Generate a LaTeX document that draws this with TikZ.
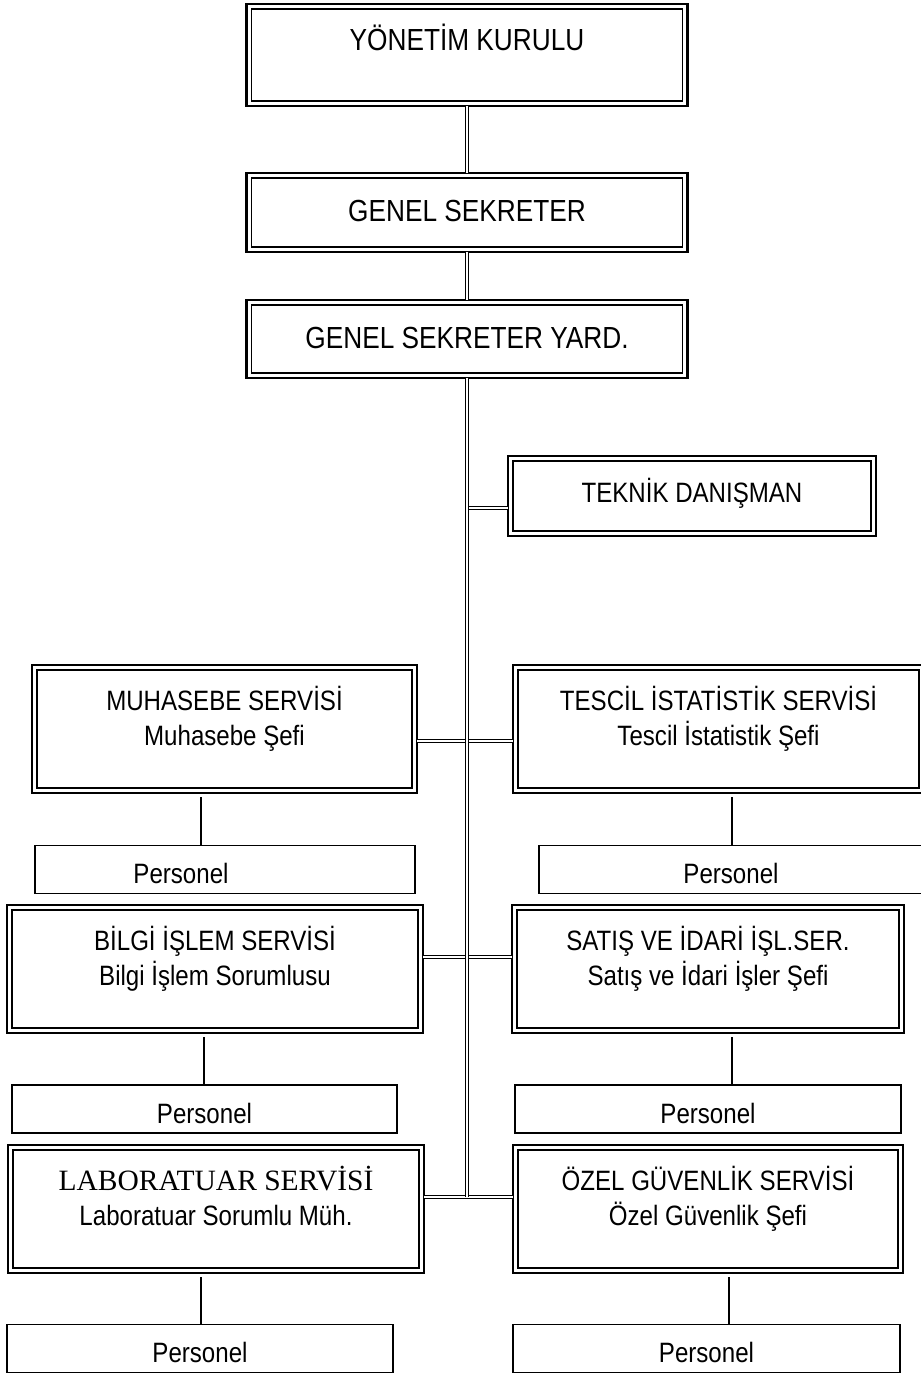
\documentclass[tikz,border=0pt]{standalone}
\usepackage{fontspec}
\setmainfont{Liberation Sans}[FakeStretch=0.86]
\newfontfamily\timesfont{Liberation Serif}
\tikzset{
  unit/.style={draw, line width=2.8pt, outer sep=0pt, inner sep=0pt, fill=white,
    align=center, font=\fontsize{28}{35}\selectfont},
  service/.style={unit, text height=80pt, text depth=48pt},
  staff/.style={draw, line width=1.3pt, outer sep=0pt, inner sep=0pt, fill=white,
    minimum height=48pt, text height=38pt, text depth=10pt,
    font=\fontsize{28}{35}\selectfont},
  link/.style={draw, double, line width=1.3pt, double distance=1.6pt},
  drop/.style={draw, line width=1.3pt, shorten <=4pt}
}
\begin{document}
\begin{tikzpicture}[x=1pt,y=-1pt]
  \useasboundingbox (0,0) rectangle (921,1374);
  % top of the chart
  \node[unit, minimum width=441pt, text height=46pt, text depth=56pt,
    font=\fontsize{30.5}{35}\selectfont] (yk) at (467,55) {YÖNETİM KURULU};
  \node[unit, minimum width=441pt, text height=48pt, text depth=31pt,
    font=\fontsize{30.5}{35}\selectfont] (gs) at (467,212.5) {GENEL SEKRETER};
  \node[unit, minimum width=441pt, text height=48pt, text depth=30pt,
    font=\fontsize{30.5}{35}\selectfont] (gsy) at (467,339) {GENEL SEKRETER YARD.};
  \node[unit, minimum width=368pt, text height=46pt, text depth=34pt] (td) at (692,496) {TEKNİK DANIŞMAN};
  % services
  \node[service, minimum width=385pt] (mu) at (224.5,729)
    {MUHASEBE SERVİSİ\\Muhasebe Şefi};
  \node[service, minimum width=411pt] (ts) at (718.5,729)
    {TESCİL İSTATİSTİK SERVİSİ\\Tescil İstatistik Şefi};
  \node[service, minimum width=416pt] (bi) at (215,969)
    {BİLGİ İŞLEM SERVİSİ\\Bilgi İşlem Sorumlusu};
  \node[service, minimum width=392pt] (si) at (708,969)
    {SATIŞ VE İDARİ İŞL.SER.\\Satış ve İdari İşler Şefi};
  \node[service, minimum width=416pt] (la) at (216,1209)
    {{\timesfont\fontsize{29.5}{35}\selectfont LABORATUAR SERVİSİ}\\Laboratuar Sorumlu Müh.};
  \node[service, minimum width=390pt] (og) at (708,1209)
    {ÖZEL GÜVENLİK SERVİSİ\\Özel Güvenlik Şefi};
  % staff boxes
  \node[staff, minimum width=380pt] (p1) at (225,869.5) {Personel\hspace*{88pt}};
  \node[staff, minimum width=384pt] (p2) at (731,869.5) {Personel};
  \node[staff, minimum width=385pt] (p3) at (204.5,1109) {Personel};
  \node[staff, minimum width=386pt] (p4) at (708,1109) {Personel};
  \node[staff, minimum width=386pt] (p5) at (200,1348.5) {Personel};
  \node[staff, minimum width=387pt] (p6) at (706.5,1348.5) {Personel};
  % inner frame of the double boxes
  \foreach \n in {yk,gs,gsy,td,mu,ts,bi,si,la,og}
    \draw[line width=1.1pt] ([shift={(5,5)}]\n.north west) rectangle ([shift={(-5,-5)}]\n.south east);
  % connectors
  \coordinate (tdj) at ([yshift=-12pt]td.west);
  \coordinate (tail) at (467,1197);
  \draw[link] (yk.south) -- (gs.north);
  \draw[link] (gs.south) -- (gsy.north);
  \draw[link] ([yshift=-76pt]mu.north east) -- ([yshift=-76pt]ts.north west);
  \draw[link] ([yshift=-52pt]bi.north east) -- ([yshift=-52pt]si.north west);
  \draw[link] ([yshift=-52pt]la.north east) -- ([yshift=-52pt]og.north west);
  \draw[link] (gsy.south |- tdj) -- (tdj);
  \draw[link] (gsy.south) -- (tail);
  \foreach \s/\p/\d in {mu/p1/-23.5,ts/p2/13.5,bi/p3/-11,si/p4/24,la/p5/-15,og/p6/21}
    \draw[drop] ([xshift=\d pt]\s.south) -- ([xshift=\d pt]\s.south |- \p.north);
\end{tikzpicture}
\end{document}
